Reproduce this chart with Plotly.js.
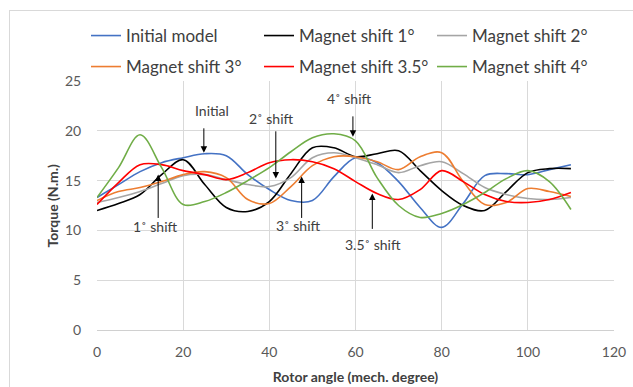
<!DOCTYPE html>
<html>
<head>
<meta charset="utf-8">
<script src="https://cdn.plot.ly/plotly-3.0.1.min.js"></script>
<style>
  html, body { margin: 0; padding: 0; background: #fff; overflow: hidden; }
  #frame { position: absolute; left: 9px; top: 10px; width: 700px; height: 500px; border: 1px solid #d9d9d9; box-sizing: border-box; }
  #chart { position: absolute; left: 0; top: 0; width: 633px; height: 387px; }
</style>
</head>
<body>
<div id="frame"></div>
<div id="chart"></div>
<script>
// Rotor angle (mech. degree)
const angle = [0, 5, 10, 15, 20, 25, 30, 35, 40, 45, 50, 55, 60, 65, 70, 75, 80, 85, 90, 95, 100, 105, 110];

// Torque (N.m.)
const initialModel = [13.3, 14.6, 15.9, 16.8, 17.3, 17.7, 17.5, 15.6, 14.1, 13.0, 13.0, 15.4, 17.3, 16.8, 14.9, 12.3, 10.3, 12.7, 15.5, 15.7, 15.6, 16.1, 16.6];
const shift1 = [12.0, 12.7, 13.6, 15.6, 17.1, 14.6, 12.3, 11.9, 12.9, 15.7, 18.3, 18.3, 17.4, 17.7, 18.0, 16.0, 14.0, 12.5, 12.0, 13.9, 15.8, 16.2, 16.2];
const shift2 = [12.8, 13.3, 13.9, 14.7, 15.5, 15.6, 15.1, 14.6, 14.4, 15.3, 17.3, 17.8, 17.3, 16.6, 15.8, 16.5, 16.9, 15.7, 14.3, 13.6, 13.2, 13.1, 13.3];
const shift3 = [13.0, 13.9, 14.3, 14.9, 15.6, 15.9, 15.3, 13.1, 12.7, 14.4, 16.5, 17.4, 17.4, 16.9, 16.1, 17.4, 17.8, 14.9, 12.6, 12.8, 14.2, 13.9, 13.4];
const shift35 = [12.6, 14.8, 16.6, 16.6, 16.0, 15.6, 15.1, 15.8, 16.8, 17.1, 16.9, 16.2, 14.9, 13.7, 13.1, 14.1, 16.0, 14.9, 13.6, 12.9, 12.8, 13.1, 13.8];
const shift4 = [13.3, 16.3, 19.6, 16.3, 12.6, 12.9, 13.8, 15.0, 16.3, 17.9, 19.3, 19.7, 19.0, 15.3, 12.5, 11.3, 11.7, 12.6, 13.8, 15.2, 16.0, 14.9, 12.1];

const seriesNames = ['Initial model', 'Magnet shift 1°', 'Magnet shift 2°', 'Magnet shift 3°', 'Magnet shift 3.5°', 'Magnet shift 4°'];
const seriesValues = [initialModel, shift1, shift2, shift3, shift35, shift4];
const seriesColors = ['#4472C4', '#000000', '#A5A5A5', '#ED7D31', '#FF0000', '#70AD47'];

const xTitle = 'Rotor angle (mech. degree)';
const yTitle = 'Torque (N.m.)';

// Callout labels
const calloutText = ['Initial', '1˚ shift', '2˚ shift', '3˚ shift', '4˚ shift', '3.5˚ shift'];
const calloutTip = [[24.8, 17.8], [14.2, 15.6], [41.5, 15.2], [47.5, 15.4], [59.4, 19.4], [63.9, 13.7]];
const calloutTail = [[24.8, 20.4], [14.2, 11.1], [41.5, 20.1], [47.5, 11.1], [59.4, 21.6], [63.9, 10.0]];
const calloutPos = [[26.7, 22.0], [13.5, 10.4], [40.6, 21.2], [46.7, 10.5], [58.7, 23.2], [64.1, 8.6]];

const FONT = 'Lato, "Open Sans", sans-serif';
const W = 633, H = 387;
const M = { l: 97, r: 19, t: 81, b: 57 };

// legend grid: 3 columns x 2 rows
const legendIds = ['legend', 'legend2', 'legend3', 'legend4', 'legend5', 'legend6'];
const legendColPx = [86, 259, 432];
const legendRowPx = [36, 67];

const traces = seriesNames.map((name, i) => ({
  type: 'scatter',
  mode: 'lines',
  name: name,
  x: angle,
  y: seriesValues[i],
  line: { color: seriesColors[i], width: 1.6, shape: 'spline', smoothing: 1 },
  legend: legendIds[i]
}));

const annotations = [];
calloutText.forEach((t, i) => {
  annotations.push({
    x: calloutPos[i][0], y: calloutPos[i][1], xref: 'x', yref: 'y',
    text: t, showarrow: false,
    font: { family: FONT, size: 14, color: '#404040' }
  });
  annotations.push({
    x: calloutTip[i][0], y: calloutTip[i][1], xref: 'x', yref: 'y',
    ax: calloutTail[i][0], ay: calloutTail[i][1], axref: 'x', ayref: 'y',
    text: '', showarrow: true, arrowhead: 2, arrowsize: 1.3, arrowwidth: 1, arrowcolor: '#000', standoff: 0
  });
});
// y-axis title (drawn as rotated text beside the axis)
annotations.push({
  xref: 'paper', yref: 'paper',
  x: (52 - M.l) / (W - M.l - M.r), y: 0.5,
  xanchor: 'center', yanchor: 'middle',
  text: '<b>' + yTitle + '</b>', textangle: -90, showarrow: false,
  font: { family: FONT, size: 14, color: '#404040' }
});

const layout = {
  width: W, height: H,
  margin: Object.assign({ autoexpand: false }, M),
  paper_bgcolor: 'rgba(0,0,0,0)', plot_bgcolor: '#fff',
  font: { family: FONT, color: '#595959' },
  showlegend: true,
  xaxis: {
    range: [0, 120], dtick: 20, tick0: 0,
    showgrid: true, gridcolor: '#d9d9d9', gridwidth: 1,
    zeroline: false, showline: true, linecolor: '#d0d0d0', linewidth: 1,
    ticks: 'outside', ticklen: 9, tickcolor: 'rgba(0,0,0,0)',
    tickfont: { family: FONT, size: 14, color: '#595959' },
    title: { text: xTitle, font: { family: FONT, size: 14, color: '#404040', weight: 'bold' }, standoff: 13 }
  },
  yaxis: {
    range: [0, 25], dtick: 5, tick0: 0,
    showgrid: true, gridcolor: '#d9d9d9', gridwidth: 1,
    zeroline: false, showline: false,
    ticks: 'outside', ticklen: 12, tickcolor: 'rgba(0,0,0,0)',
    tickfont: { family: FONT, size: 14, color: '#595959' }
  },
  annotations: annotations
};

legendIds.forEach((id, i) => {
  layout[id] = {
    orientation: 'v', xref: 'container', yref: 'container',
    x: legendColPx[i % 3] / W, xanchor: 'left',
    y: 1 - legendRowPx[Math.floor(i / 3)] / H, yanchor: 'middle',
    font: { family: FONT, size: 17, color: '#404040' },
    bgcolor: 'rgba(0,0,0,0)', borderwidth: 0
  };
});

Plotly.newPlot('chart', traces, layout, { staticPlot: true, displayModeBar: false });
</script>
</body>
</html>
